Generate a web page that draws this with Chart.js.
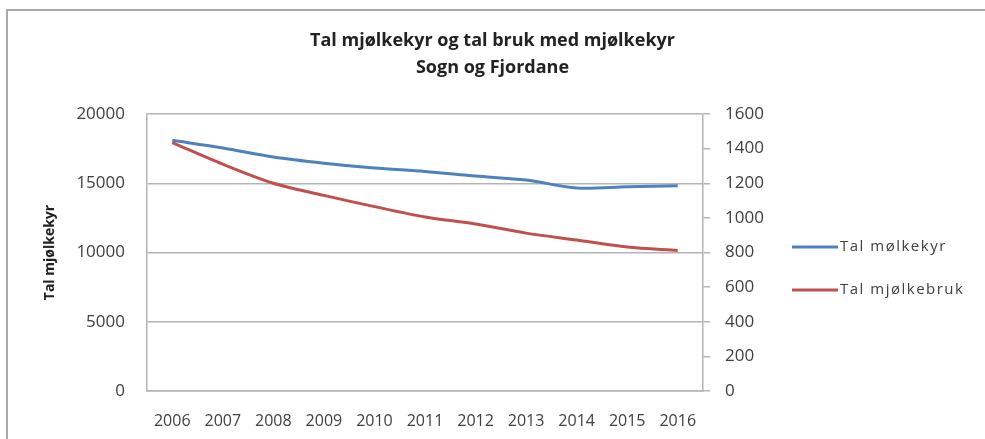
<!DOCTYPE html>
<html>
<head>
<meta charset="utf-8">
<script src="https://cdn.jsdelivr.net/npm/chart.js@4.4.1/dist/chart.umd.min.js"></script>
<style>
    html, body { margin: 0; padding: 0; background: #fff; }
    #frame {
        position: absolute; left: 6px; top: 9px; width: 1000px; height: 460px;
        border-top: 2px solid #a9a9a9; border-left: 2px solid #a9a9a9;
    }
    #wrap { position: absolute; left: 0; top: 0; width: 985px; height: 439px; }
</style>
</head>
<body>
<div id="frame"></div>
<div id="wrap"><canvas id="milkChart"></canvas></div>
<script>
const years = ["2006", "2007", "2008", "2009", "2010", "2011", "2012", "2013", "2014", "2015", "2016"];
const cows = [18100, 17550, 16900, 16450, 16100, 15850, 15520, 15230, 14660, 14750, 14820];
const farms = [1435, 1310, 1200, 1130, 1065, 1005, 965, 912, 872, 832, 812];
const leftTicks = [0, 5000, 10000, 15000, 20000];
const rightTicks = [0, 200, 400, 600, 800, 1000, 1200, 1400, 1600];

const titleLines = ["Tal mjølkekyr og tal bruk med mjølkekyr", "Sogn og Fjordane"];
const seriesNames = ["Tal mølkekyr", "Tal mjølkebruk"];

const textColor = "#404040";
const gridColor = "#b4b4b4";

// legend drawn by hand to the right of the right axis
const sideLegend = {
    id: "sideLegend",
    afterDraw(chart) {
        const { ctx } = chart;
        const axis = chart.scales.y1;
        const area = chart.chartArea;
        ctx.save();
        chart.data.datasets.forEach((ds, i) => {
            const x = axis.left + 89;
            const y = area.top + 133 + i * 43;
            ctx.strokeStyle = ds.borderColor;
            ctx.lineWidth = 3;
            ctx.beginPath();
            ctx.moveTo(x, y);
            ctx.lineTo(x + 46, y);
            ctx.stroke();
            ctx.fillStyle = textColor;
            ctx.font = "15px 'Open Sans'";
            ctx.letterSpacing = "1.5px";
            ctx.textBaseline = "middle";
            ctx.fillText(ds.label, x + 48, y);
        });
        ctx.restore();
    }
};

new Chart(document.getElementById("milkChart"), {
    type: "line",
    data: {
        labels: years,
        datasets: [{
            label: seriesNames[0],
            data: cows,
            yAxisID: "y",
            borderColor: "#4f81bd",
            borderWidth: 3,
            pointRadius: 0,
            tension: 0.3
        }, {
            label: seriesNames[1],
            data: farms,
            yAxisID: "y1",
            borderColor: "#c0504d",
            borderWidth: 3,
            pointRadius: 0,
            tension: 0.3
        }]
    },
    options: {
        responsive: true,
        maintainAspectRatio: false,
        animation: false,
        layout: { padding: 0 },
        plugins: {
            legend: { display: false },
            tooltip: { enabled: false },
            title: {
                display: true,
                text: titleLines,
                color: "#222",
                font: { family: "'Open Sans'", size: 18, weight: "bold", lineHeight: "27px" },
                padding: { top: 27, bottom: 33 }
            }
        },
        scales: {
            x: {
                offset: true,
                grid: { display: false, drawTicks: false },
                border: { display: true, color: gridColor, width: 1.5 },
                ticks: {
                    color: textColor,
                    font: { family: "'Open Sans'", size: 16 },
                    padding: 21,
                    maxRotation: 0,
                    autoSkip: false
                },
                afterFit: (scale) => { scale.height = 48; }
            },
            y: {
                position: "left",
                min: 0,
                max: 20000,
                afterBuildTicks: (scale) => { scale.ticks = leftTicks.map(v => ({ value: v })); },
                grid: { color: gridColor, lineWidth: 1.5, drawTicks: false },
                border: { display: true, color: gridColor, width: 1.5 },
                ticks: {
                    color: textColor,
                    font: { family: "'Open Sans'", size: 17 },
                    padding: 22,
                    callback: (value) => String(value)
                },
                title: {
                    display: true,
                    text: "Tal mjølkekyr",
                    color: "#222",
                    font: { family: "'Open Sans'", size: 14, weight: "bold" },
                    padding: { top: 42, bottom: 0 }
                },
                afterFit: (scale) => { scale.width = 147; }
            },
            y1: {
                position: "right",
                min: 0,
                max: 1600,
                afterBuildTicks: (scale) => { scale.ticks = rightTicks.map(v => ({ value: v })); },
                grid: { drawOnChartArea: false, color: gridColor, lineWidth: 1.5, tickLength: 7 },
                border: { display: true, color: gridColor, width: 1.5 },
                ticks: {
                    color: textColor,
                    font: { family: "'Open Sans'", size: 17 },
                    padding: 15,
                    callback: (value) => String(value)
                },
                afterFit: (scale) => { scale.width = 282; }
            }
        }
    },
    plugins: [sideLegend]
});
</script>
</body>
</html>
